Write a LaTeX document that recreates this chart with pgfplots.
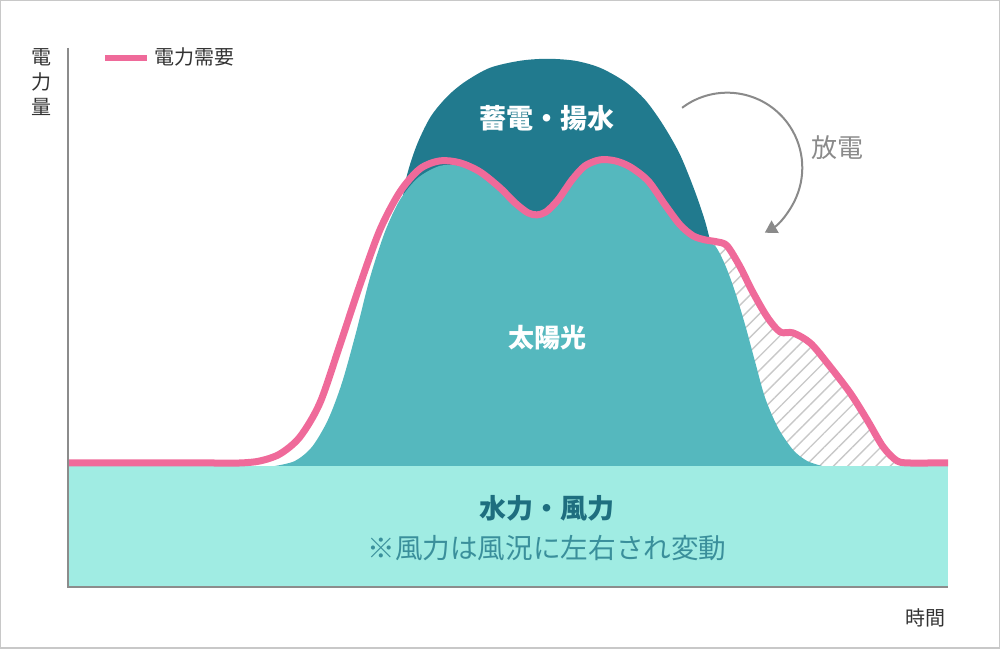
\documentclass[border=0pt]{standalone}
\usepackage{pgfplots}
\pgfplotsset{compat=1.18}
\usepackage{fontspec}
\setmainfont{Noto Sans CJK JP}
\usetikzlibrary{patterns.meta,arrows.meta}
\definecolor{bandc}{HTML}{A0ECE3}
\definecolor{solarc}{HTML}{55B8BE}
\definecolor{domec}{HTML}{217A8E}
\definecolor{pinkc}{HTML}{EF6A9A}
\definecolor{hatchc}{HTML}{C8C8C8}
\definecolor{axisc}{HTML}{8C8C8C}
\definecolor{framec}{HTML}{C8C8C8}
\definecolor{txtc}{HTML}{333333}
\definecolor{waterc}{HTML}{1E6E7F}
\definecolor{notec}{HTML}{3A8F9B}
\definecolor{arrowc}{HTML}{8A8A8A}
\begin{document}
\begin{tikzpicture}
\begin{axis}[
  x=0.5pt, y=0.5pt,
  xmin=68, xmax=948, ymin=0, ymax=539,
  axis x line=bottom, axis y line=left,
  axis line style={-, draw=axisc, line width=1pt},
  xtick=\empty, ytick=\empty,
  clip=false,
  legend style={at={(axis cs:96,529)}, anchor=west, draw=none, fill=none,
    font=\fontsize{10}{12}\selectfont\color{txtc}, cells={anchor=west}},
  legend image code/.code={\draw[#1, line width=3pt] (0pt,0pt) -- (21pt,0pt);},
]
% frame
\draw[framec, line width=0.75pt] (axis cs:1,-61) rectangle (axis cs:999,586);
% storage dome
\addplot[fill=domec, draw=none, smooth, forget plot] coordinates {
 (395,121)(398,327)(404,397)(415,437)(430,469)(447,490)(465,505)(490,519)(520,526)(547,528)(575,526)(600,519)(625,505)(645,487)(663,462)(680,432)(695,395)(706,362)(714,327)(720,287)(722,121)
} -- cycle;
% hatched (discharge) area
\addplot[pattern={Lines[angle=45,distance=5pt,line width=0.7pt]}, pattern color=hatchc, draw=none, smooth, forget plot] coordinates {
 (705,347)(717,345)(727,341)(740,320)(752,296)(767,270)(780,255)(793,254)(810,244)(827,224)(850,194)(867,167)(883,140)(897,125)(902,121)
} -- (axis cs:705,121) -- cycle;
% solar
\addplot[fill=solarc, draw=none, smooth, forget plot] coordinates {
 (275,121)(295,126)(312,140)(328,167)(342,204)(356,254)(370,309)(385,355)(400,387)(418,409)(440,421)(460,421)(480,412)(500,396)(515,381)(528,371)(537,369)(546,372)(558,384)(572,404)(585,418)(600,424)(615,423)(630,417)(648,403)(665,379)(680,359)(693,348)(705,344)(715,341)(725,322)(735,295)(745,262)(755,225)(765,189)(778,159)(793,137)(807,126)(822,121)
} -- cycle;
% base band (hydro / wind)
\addplot[fill=bandc, draw=none, forget plot] coordinates {(68,0)(68,121)(948,121)(948,0)} -- cycle;
% demand
\addplot[pinkc, line width=3.5pt, smooth, line join=round] coordinates {
 (68,124)(120,124)(170,124)(210,124)(240,124)(260,126)(280,133)(300,150)(320,184)(340,242)(360,302)(380,357)(400,395)(420,418)(440,426)(460,424)(480,415)(500,399)(515,384)(528,374)(537,372)(546,375)(558,387)(572,407)(585,421)(600,427)(615,426)(630,420)(648,406)(665,382)(680,362)(693,351)(705,347)(717,345)(727,341)(740,320)(752,296)(767,270)(780,255)(793,254)(810,244)(827,224)(850,194)(867,167)(883,140)(897,126)(910,124)(930,124)(948,124)
};
\addlegendentry{電力需要}
% redraw axis lines on top of band
\draw[axisc, line width=1pt] (axis cs:68,539) -- (axis cs:68,0) -- (axis cs:948,0);
% arrow
\draw[arrowc, line width=1pt, -{Triangle[length=6pt,width=7pt]}] (axis cs:682,479) arc[start angle=127, end angle=-60, radius=37.5pt];
% labels
\node[txtc, align=center, font=\fontsize{10}{12.5}\selectfont] at (axis cs:42,505) {電\\力\\量};
\node[txtc, font=\fontsize{10}{12}\selectfont] at (axis cs:925,-31) {時間};
\node[arrowc, font=\fontsize{13}{15}\selectfont] at (axis cs:837,439) {放電};
\node[white, font=\fontsize{13.5}{16}\selectfont\bfseries] at (axis cs:547,469) {蓄電・揚水};
\node[white, font=\fontsize{13}{16}\selectfont\bfseries] at (axis cs:547,249) {太陽光};
\node[waterc, font=\fontsize{13.5}{16}\selectfont\bfseries] at (axis cs:547,79) {水力・風力};
\node[notec, font=\fontsize{13.8}{16}\selectfont] at (axis cs:547,39) {※風力は風況に左右され変動};
\end{axis}
\end{tikzpicture}
\end{document}
